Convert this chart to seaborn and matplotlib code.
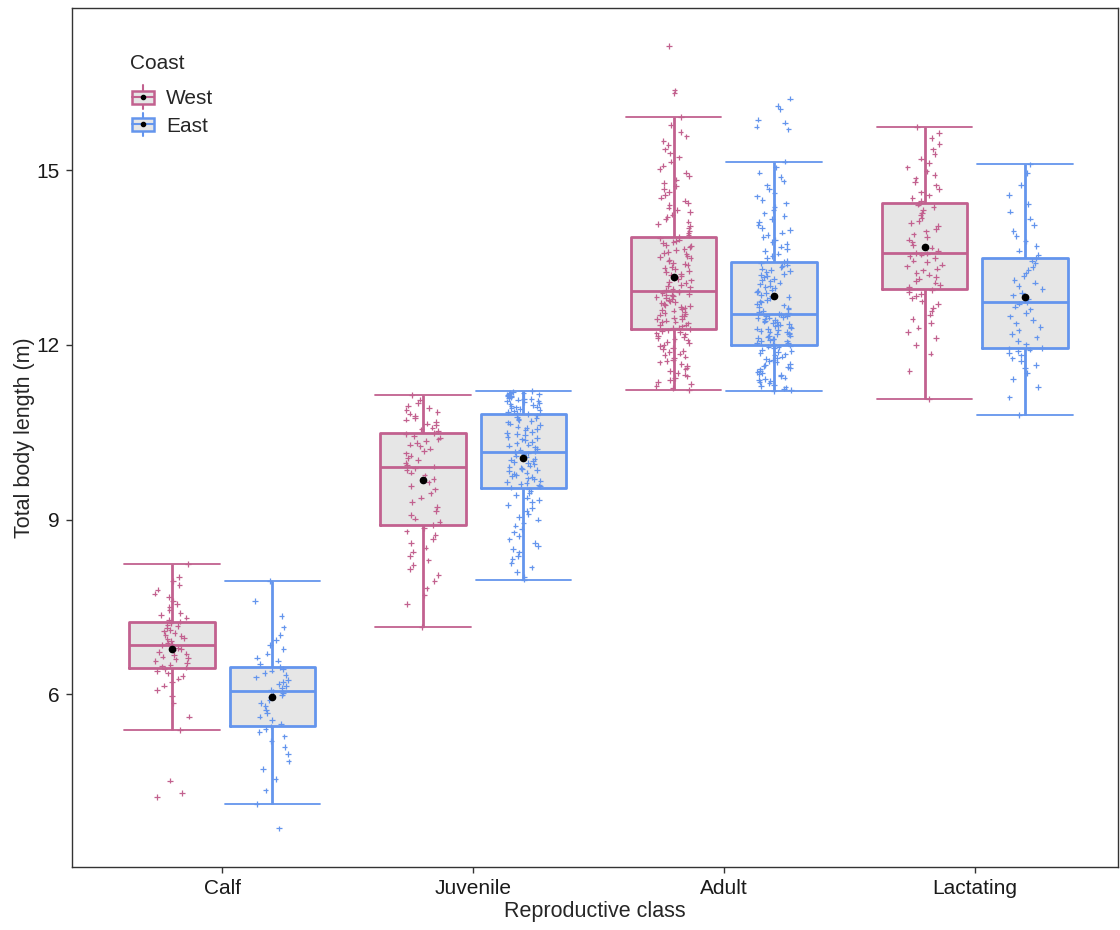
import numpy as np
import pandas as pd
import seaborn as sns
import matplotlib.pyplot as plt
from matplotlib.legend_handler import HandlerBase
from matplotlib.patches import Patch, Rectangle
from matplotlib.lines import Line2D

classes = ['Calf', 'Juvenile', 'Adult', 'Lactating']
coasts = ['West', 'East']
west_col = '#C2618F'
east_col = '#6495ED'
box_fill = '#E6E6E6'

calf_west = [4.24, 4.31, 4.52, 5.39, 5.62, 5.85, 5.98, 6.08, 6.15, 6.21, 6.27, 6.32,
             6.36, 6.40, 6.44, 6.46, 6.48, 6.51, 6.54, 6.57, 6.60, 6.62, 6.65, 6.68,
             6.70, 6.73, 6.76, 6.78, 6.80, 6.83, 6.85, 6.87, 6.89, 6.92, 6.95, 6.97,
             7.00, 7.02, 7.05, 7.08, 7.11, 7.14, 7.17, 7.20, 7.23, 7.25, 7.28, 7.32,
             7.36, 7.40, 7.45, 7.50, 7.55, 7.61, 7.67, 7.73, 7.80, 7.88, 7.95, 8.02, 8.24]
calf_east = [3.70, 4.12, 4.35, 4.55, 4.72, 4.85, 4.98, 5.10, 5.20, 5.28, 5.35, 5.41,
             5.45, 5.50, 5.56, 5.62, 5.68, 5.74, 5.80, 5.85, 5.90, 5.95, 5.99, 6.02,
             6.05, 6.08, 6.11, 6.14, 6.18, 6.21, 6.25, 6.29, 6.33, 6.37, 6.41, 6.44,
             6.47, 6.52, 6.58, 6.63, 6.70, 6.78, 6.85, 6.93, 7.02, 7.15, 7.35, 7.60, 7.95]
juvenile_west = [7.16, 7.55, 7.70, 7.82, 7.95, 8.05, 8.15, 8.22, 8.30, 8.38, 8.45, 8.52,
                 8.60, 8.67, 8.74, 8.80, 8.86, 8.91, 8.96, 9.02, 9.08, 9.15, 9.22, 9.30,
                 9.38, 9.45, 9.52, 9.58, 9.64, 9.70, 9.76, 9.81, 9.85, 9.88, 9.91, 9.94,
                 9.98, 10.02, 10.06, 10.10, 10.14, 10.18, 10.22, 10.26, 10.29, 10.32, 10.35,
                 10.38, 10.41, 10.44, 10.47, 10.49, 10.52, 10.55, 10.58, 10.62, 10.65, 10.68,
                 10.72, 10.75, 10.78, 10.82, 10.85, 10.88, 10.92, 10.96, 11.00, 11.06, 11.14]
juvenile_east = [7.97, 8.02, 8.10, 8.18, 8.25, 8.32, 8.38, 8.44, 8.50, 8.55, 8.60, 8.66,
                 8.72, 8.78, 8.84, 8.90, 8.95, 9.00, 9.05, 9.10, 9.15, 9.20, 9.25, 9.30,
                 9.34, 9.38, 9.42, 9.46, 9.49, 9.52, 9.55, 9.57, 9.59, 9.61, 9.63, 9.65,
                 9.67, 9.69, 9.71, 9.73, 9.75, 9.77, 9.79, 9.81, 9.83, 9.85, 9.87, 9.89,
                 9.91, 9.93, 9.95, 9.97, 9.99, 10.01, 10.03, 10.05, 10.08, 10.10, 10.12,
                 10.14, 10.16, 10.18, 10.20, 10.22, 10.24, 10.27, 10.29, 10.31, 10.33, 10.36,
                 10.38, 10.40, 10.42, 10.45, 10.47, 10.49, 10.51, 10.54, 10.56, 10.58, 10.60,
                 10.63, 10.65, 10.67, 10.69, 10.71, 10.73, 10.75, 10.77, 10.79, 10.81, 10.83,
                 10.85, 10.86, 10.88, 10.90, 10.91, 10.93, 10.94, 10.96, 10.97, 10.99, 11.00,
                 11.02, 11.03, 11.04, 11.06, 11.07, 11.08, 11.09, 11.10, 11.11, 11.12, 11.13,
                 11.14, 11.15, 11.16, 11.17, 11.18, 11.19, 11.21]
adult_west = [11.23, 11.26, 11.30, 11.33, 11.36, 11.40, 11.43, 11.46, 11.49, 11.52, 11.55,
              11.58, 11.61, 11.64, 11.67, 11.70, 11.72, 11.75, 11.78, 11.80, 11.83, 11.85,
              11.88, 11.90, 11.93, 11.95, 11.98, 12.00, 12.03, 12.05, 12.08, 12.10, 12.12,
              12.14, 12.16, 12.18, 12.20, 12.22, 12.24, 12.25, 12.27, 12.29, 12.30, 12.32,
              12.34, 12.35, 12.37, 12.39, 12.40, 12.42, 12.44, 12.45, 12.47, 12.49, 12.50,
              12.52, 12.54, 12.55, 12.57, 12.59, 12.60, 12.62, 12.64, 12.65, 12.67, 12.69,
              12.70, 12.72, 12.74, 12.75, 12.77, 12.79, 12.80, 12.82, 12.84, 12.85, 12.86,
              12.88, 12.89, 12.91, 12.92, 12.94, 12.96, 12.99, 13.01, 13.03, 13.06, 13.08,
              13.11, 13.13, 13.15, 13.18, 13.20, 13.22, 13.25, 13.27, 13.30, 13.32, 13.34,
              13.37, 13.39, 13.41, 13.44, 13.46, 13.49, 13.51, 13.53, 13.56, 13.58, 13.60,
              13.63, 13.65, 13.68, 13.70, 13.72, 13.75, 13.77, 13.79, 13.81, 13.83, 13.85,
              13.88, 13.92, 13.96, 14.00, 14.04, 14.08, 14.12, 14.16, 14.20, 14.24, 14.28,
              14.32, 14.36, 14.40, 14.44, 14.48, 14.53, 14.58, 14.63, 14.68, 14.73, 14.78,
              14.84, 14.90, 14.96, 15.02, 15.08, 15.15, 15.22, 15.29, 15.36, 15.43, 15.50,
              15.58, 15.66, 15.78, 15.91, 16.32, 16.37, 17.13]
adult_east = [11.21, 11.23, 11.25, 11.27, 11.30, 11.32, 11.34, 11.36, 11.38, 11.40, 11.42,
              11.44, 11.46, 11.48, 11.50, 11.52, 11.54, 11.56, 11.58, 11.60, 11.62, 11.64,
              11.66, 11.68, 11.70, 11.72, 11.74, 11.76, 11.78, 11.80, 11.82, 11.84, 11.86,
              11.88, 11.90, 11.92, 11.94, 11.96, 11.97, 11.99, 12.00, 12.02, 12.03, 12.04,
              12.06, 12.07, 12.08, 12.10, 12.11, 12.12, 12.14, 12.15, 12.16, 12.18, 12.19,
              12.20, 12.22, 12.23, 12.24, 12.26, 12.27, 12.28, 12.30, 12.31, 12.32, 12.34,
              12.35, 12.36, 12.38, 12.39, 12.40, 12.42, 12.43, 12.44, 12.46, 12.47, 12.48,
              12.49, 12.50, 12.52, 12.53, 12.55, 12.57, 12.59, 12.62, 12.64, 12.66, 12.68,
              12.71, 12.73, 12.75, 12.77, 12.80, 12.82, 12.84, 12.86, 12.89, 12.91, 12.93,
              12.95, 12.98, 13.00, 13.02, 13.04, 13.07, 13.09, 13.11, 13.13, 13.16, 13.18,
              13.20, 13.22, 13.25, 13.27, 13.29, 13.31, 13.34, 13.36, 13.38, 13.40, 13.42,
              13.45, 13.49, 13.53, 13.57, 13.61, 13.65, 13.69, 13.73, 13.77, 13.81, 13.85,
              13.89, 13.93, 13.97, 14.01, 14.06, 14.11, 14.16, 14.21, 14.26, 14.31, 14.37,
              14.43, 14.49, 14.55, 14.61, 14.67, 14.74, 14.81, 14.88, 14.96, 15.05, 15.15,
              15.70, 15.75, 15.82, 15.87, 16.05, 16.10, 16.23]
lactating_west = [11.07, 11.55, 11.85, 12.00, 12.12, 12.22, 12.30, 12.38, 12.45, 12.52,
                  12.58, 12.64, 12.70, 12.75, 12.80, 12.84, 12.88, 12.91, 12.94, 12.96,
                  13.00, 13.03, 13.07, 13.10, 13.14, 13.17, 13.21, 13.24, 13.28, 13.31,
                  13.35, 13.38, 13.42, 13.45, 13.49, 13.52, 13.55, 13.57, 13.58, 13.62,
                  13.67, 13.71, 13.76, 13.81, 13.85, 13.90, 13.95, 13.99, 14.04, 14.09,
                  14.13, 14.18, 14.23, 14.27, 14.32, 14.37, 14.41, 14.43, 14.47, 14.52,
                  14.57, 14.62, 14.68, 14.74, 14.80, 14.86, 14.92, 14.98, 15.05, 15.12,
                  15.20, 15.28, 15.36, 15.45, 15.55, 15.64, 15.74]
lactating_east = [10.80, 11.10, 11.28, 11.42, 11.52, 11.60, 11.66, 11.72, 11.77, 11.82,
                  11.86, 11.89, 11.92, 11.94, 11.95, 12.01, 12.07, 12.13, 12.19, 12.25,
                  12.31, 12.37, 12.43, 12.49, 12.55, 12.61, 12.66, 12.71, 12.74, 12.79,
                  12.85, 12.90, 12.96, 13.01, 13.07, 13.12, 13.18, 13.23, 13.29, 13.34,
                  13.40, 13.45, 13.49, 13.55, 13.62, 13.70, 13.78, 13.87, 13.96, 14.06,
                  14.17, 14.29, 14.42, 14.58, 14.75, 14.95, 15.10]

groups = {
    ('Calf', 'West'): calf_west, ('Calf', 'East'): calf_east,
    ('Juvenile', 'West'): juvenile_west, ('Juvenile', 'East'): juvenile_east,
    ('Adult', 'West'): adult_west, ('Adult', 'East'): adult_east,
    ('Lactating', 'West'): lactating_west, ('Lactating', 'East'): lactating_east,
}
rows = [(cls, coast, v) for (cls, coast), vals in groups.items() for v in vals]
df = pd.DataFrame(rows, columns=['repro_class', 'coast', 'length'])

sns.set_style('ticks')
plt.rcParams['font.family'] = ['Liberation Sans', 'DejaVu Sans']


class BoxKey(HandlerBase):
    # legend key looking like a tiny boxplot with a mean dot
    def create_artists(self, legend, orig_handle, xdescent, ydescent,
                       width, height, fontsize, trans):
        col = orig_handle.get_edgecolor()
        x0, y0 = -xdescent, -ydescent
        cx = x0 + width / 2
        whisk = Line2D([cx, cx], [y0 - 0.3 * height, y0 + 1.3 * height],
                       color=col, lw=1.5, transform=trans)
        box = Rectangle((x0 + 0.1 * width, y0 + 0.05 * height), 0.8 * width, 0.9 * height,
                        facecolor=box_fill, edgecolor=col, lw=1.8, transform=trans)
        med = Line2D([x0 + 0.1 * width, x0 + 0.9 * width], [y0 + 0.5 * height] * 2,
                     color=col, lw=1.5, transform=trans)
        dot = Line2D([cx], [y0 + 0.5 * height], marker='o', color='black',
                     markersize=3, lw=0, transform=trans)
        return [whisk, box, med, dot]


fig, ax = plt.subplots(figsize=(11.2, 9.3), dpi=100)
fig.subplots_adjust(left=0.064, right=0.998, bottom=0.068, top=0.991)

common = dict(data=df, x='repro_class', y='length', hue='coast', order=classes,
              hue_order=coasts, width=0.8, gap=0.15, whis=1.5, showfliers=False,
              legend=False, saturation=1, ax=ax)

# grey box bodies
sns.boxplot(**common, palette=[box_fill, box_fill], fill=True, linewidth=0,
            showcaps=False)
# coloured outlines, whiskers, medians and means
sns.boxplot(**common, palette=[west_col, east_col], fill=False, linewidth=2,
            showmeans=True, capprops=dict(linewidth=1.3),
            meanprops=dict(marker='o', markerfacecolor='black', markeredgecolor='black',
                           markersize=4.5, zorder=5))

# widen the whisker caps like an errorbar
for line in ax.lines:
    xd, yd = np.asarray(line.get_xdata()), np.asarray(line.get_ydata())
    if len(xd) == 2 and yd[0] == yd[1] and abs(xd[1] - xd[0]) < 0.25:
        c = xd.mean()
        line.set_xdata([c - 0.19, c + 0.19])

np.random.seed(7)
sns.stripplot(data=df, x='repro_class', y='length', hue='coast', order=classes,
              hue_order=coasts, dodge=True, jitter=0.14, marker='+', size=4,
              linewidth=0.9, palette=[west_col, east_col], legend=False, zorder=3, ax=ax)

ax.set_xlim(-0.6, 3.57)
ax.set_ylim(3.04, 17.78)
ax.set_yticks([6, 9, 12, 15])
ax.set_xlabel('Reproductive class', fontsize=15.5, labelpad=2)
ax.set_ylabel('Total body length (m)', fontsize=15.5, labelpad=1)
ax.tick_params(direction='out', length=4, width=1, color='#333333',
               labelsize=15, labelcolor='#1a1a1a', pad=5)
for sp in ax.spines.values():
    sp.set_color('#333333')
    sp.set_linewidth(1)

handles = [Patch(facecolor=box_fill, edgecolor=west_col, label='West'),
           Patch(facecolor=box_fill, edgecolor=east_col, label='East')]
leg = ax.legend(handles=handles, title='Coast', loc='upper left',
                bbox_to_anchor=(0.0375, 0.969), frameon=False,
                handler_map={Patch: BoxKey()}, fontsize=15, title_fontsize=15,
                handlelength=1.3, handleheight=0.7, handletextpad=0.45,
                labelspacing=0.4, alignment='left')
leg._legend_box.sep = 12

plt.savefig('out.png', dpi=100)
